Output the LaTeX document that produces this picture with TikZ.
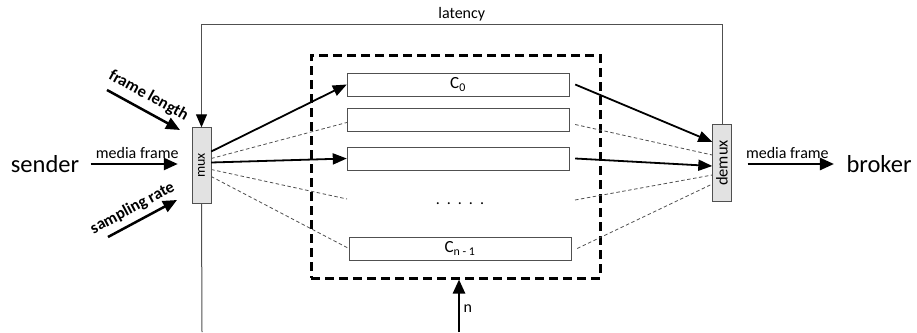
\documentclass[tikz,border=0pt]{standalone}
\usepackage{fontspec}
\setmainfont{Carlito}
\usepackage{graphicx}
\usetikzlibrary{positioning,arrows.meta,calc}
\definecolor{boxgray}{HTML}{E2E2E2}
\definecolor{linegray}{HTML}{505050}
\tikzset{
    every node/.style={font=\fontsize{16}{18}\selectfont},
    switchbox/.style={rectangle,draw=linegray,fill=boxgray,minimum width=19pt,inner sep=0pt,font=\fontsize{14}{16}\selectfont},
    chan/.style={rectangle,draw=linegray,fill=white,minimum width=222pt,minimum height=23pt,inner sep=0pt,font=\fontsize{17}{19}\selectfont},
    bank/.style={rectangle,draw,line width=3pt,dash pattern=on 9pt off 5pt,minimum width=289pt,minimum height=223pt},
    flow/.style={draw,line width=2.5pt,-{Triangle[length=14pt,width=12pt]}},
    fan/.style={draw,line width=1.8pt,-{Triangle[length=14pt,width=11pt]}},
    ghost/.style={draw=linegray,dash pattern=on 3.5pt off 2.5pt,line width=0.8pt},
    fback/.style={draw=linegray,line width=1pt},
    endpt/.style={font=\fontsize{24.5}{26}\selectfont},
    knob/.style={font=\bfseries\fontsize{16.5}{18}\selectfont}
}

\begin{document}
\begin{tikzpicture}[x=1pt,y=-1pt]
\useasboundingbox (0,0) rectangle (917,332);

% channel bank
\node[bank] (bank) at (455.5,166.5) {};
\node[chan] (c0) at (458,84.5) {C\textsubscript{0}};
\node[chan] (c1) at (458,119.5) {};
\node[chan] (c2) at (458,158.5) {};
\node[chan] (cn) at (460,248.5) {C\textsubscript{n - 1}};
\node (dots) at (460,204) {.\hspace{7pt}.\hspace{7pt}.\hspace{7pt}.\hspace{7pt}.};
\coordinate (dl) at (347,199);
\coordinate (dr) at (575,200);

% mux / demux
\node[switchbox,minimum height=76pt] (mux) at (201.5,165.5) {\rotatebox{90}{mux}};
\node[switchbox,minimum height=77pt,font=\fontsize{16.5}{18}\selectfont] (demux) at (722,163) {\rotatebox{90}{demux}};

% end points
\node[endpt] (sender) at (45,164) {sender};
\node[endpt] (broker) at (879,164) {broker};
\draw[flow,shorten <=8pt,shorten >=14pt] (sender.east) -- node[above=1pt]{media frame} (sender.east -| mux.west);
\draw[flow,shorten <=16pt,shorten >=9pt] (demux.east |- broker.west) -- node[above=1pt]{media frame} (broker.west);

% control inputs
\coordinate (flA) at (107,90);
\coordinate (flB) at (180,130);
\draw[flow] (flA) -- node[knob,sloped,above=3pt,pos=0.47]{frame length} (flB);
\coordinate (srA) at (108,237);
\coordinate (srB) at (177,200);
\draw[flow] (srA) -- node[knob,sloped,above=2pt,pos=0.45]{sampling rate} (srB);

% latency feedback
\coordinate (lat) at (454,24.5);
\draw[fback,-{Triangle[length=13pt,width=11pt,color=black]}] (demux.north) -- (demux.north |- lat) -- node[above]{latency} (mux.north |- lat) -- (mux.north);
\coordinate (bot) at (202,332);
\draw[fback] (mux.south) -- (bot);

% n
\coordinate (nin) at (459,332);
\draw[flow] (nin) -- node[right,pos=0.45]{n} (nin |- bank.south);

% fan out
\draw[fan] ([yshift=14pt]mux.east) -- (c0.west);
\draw[ghost] ([yshift=7pt]mux.east) -- ([yshift=-3pt]c1.west);
\draw[fan] ([yshift=3pt]mux.east) -- (c2.west);
\draw[ghost] ([yshift=-4pt]mux.east) -- (dl);
\draw[ghost] ([yshift=-11pt]mux.east) -- (cn.west);

% fan in
\draw[fan] ([xshift=6pt]c0.east) -- ([yshift=21pt]demux.west);
\draw[ghost] ([xshift=6pt,yshift=-5pt]c1.east) -- ([yshift=8pt]demux.west);
\draw[fan] ([xshift=6pt]c2.east) -- ([yshift=-3pt]demux.west);
\draw[ghost] (dr) -- ([yshift=-12pt]demux.west);
\draw[ghost] ([xshift=6pt]cn.east) -- ([yshift=-21pt]demux.west);
\end{tikzpicture}
\end{document}
